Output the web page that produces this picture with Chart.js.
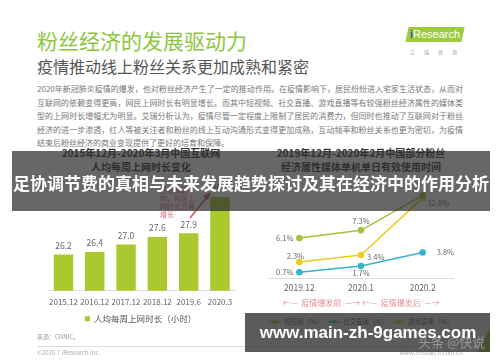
<!DOCTYPE html>
<html>
<head>
<meta charset="utf-8">
<script src="https://cdn.jsdelivr.net/npm/chart.js@4"></script>
<style>
  body { margin: 0; width: 500px; height: 362px; background: #fff; position: relative; overflow: hidden;
         font-family: "Noto Sans CJK SC", "Noto Sans", sans-serif; }
  .abs { position: absolute; white-space: nowrap; }
  .ctr { transform: translateX(-50%); }
  #para div { position: absolute; left: 0; width: 426px; text-align: justify; text-align-last: justify; }
  #para div.last { text-align-last: left; }
  canvas { position: absolute; }
</style>
</head>
<body>

<!-- slide header -->
<div class="abs" style="left:37px;top:27px;font-size:21px;line-height:26px;color:#8cc63e;">粉丝经济的发展驱动力</div>
<div class="abs" style="left:37px;top:56px;font-size:16px;line-height:20px;color:#555;">疫情推动线上粉丝关系更加成熟和紧密</div>

<!-- logo -->
<div class="abs" style="left:407px;top:27px;width:56px;height:15px;background:#9dcb3b;transform:skewX(-12deg);"></div>
<div class="abs" style="left:410px;top:27px;font-size:11px;line-height:15px;color:#fff;font-family:'Liberation Sans',sans-serif;">
  <span style="color:#2a5f8f;font-weight:bold;">i</span>Research</div>
<div class="abs" style="left:410px;top:48px;font-size:5px;line-height:7px;color:#999;letter-spacing:9px;">艾瑞咨询</div>

<!-- paragraph -->
<div id="para" class="abs" style="left:37px;top:83px;font-size:8px;line-height:11px;color:#777;">
  <div style="top:0px">2020年新冠肺炎疫情的爆发，也对粉丝经济产生了一定的推动作用。在疫情影响下，居民纷纷进入宅家生活状态，从而对</div>
  <div style="top:13.5px">互联网的依赖变得更高，网民上网时长有明显增长。而其中短视频、社交直播、游戏直播等有较强粉丝经济属性的媒体类</div>
  <div style="top:27px">型的上网时长增幅尤为明显。艾瑞分析认为，疫情尽管一定程度上限制了居民的消费力，但同时也推动了互联网对于粉丝</div>
  <div style="top:40.5px">经济的进一步渗透，红人等被关注者和粉丝的线上互动沟通形式变得更加成熟，互动频率和粉丝关系也更为密切，为疫情</div>
  <div class="last" style="top:54px">结束后粉丝经济的商业变现提供了更好的培育和保障。</div>
</div>

<!-- chart titles -->
<div class="abs ctr" style="left:141px;top:146px;font-size:10px;line-height:13px;font-weight:bold;color:#333;">2015年12月-2020年3月中国互联网</div>
<div class="abs ctr" style="left:141px;top:160px;font-size:10px;line-height:13px;font-weight:bold;color:#333;">人均每周上网时长变化</div>
<div class="abs ctr" style="left:361px;top:146px;font-size:10px;line-height:13px;font-weight:bold;color:#333;">2019年12月-2020年2月中国部分粉丝</div>
<div class="abs ctr" style="left:361px;top:160px;font-size:10px;line-height:13px;font-weight:bold;color:#333;">经济属性媒体单机单日有效使用时间</div>

<!-- charts -->
<canvas id="barChart" style="left:43px;top:180px;width:195px;height:153px;"></canvas>
<canvas id="lineChart" style="left:263px;top:180px;width:196px;height:155px;"></canvas>

<!-- annotation on bar chart -->
<div class="abs" style="left:160px;top:186px;font-size:7px;line-height:8px;color:#e36b78;">受疫情影<br>响，网民上<br>网时长显著<br>增长</div>
<svg class="abs" style="left:0;top:0;" width="500" height="362">
  <line x1="190" y1="218" x2="207" y2="197" stroke="#d9534f" stroke-width="1.5"/>
  <polygon points="211,192 203,196 208,200" fill="#d9534f"/>
  <polygon points="478,352 490,328 490,352" fill="#8cc63e"/>
</svg>

<!-- footer -->
<div class="abs" style="left:37px;top:333px;font-size:6px;line-height:8px;color:#999;">来源：CNNIC。</div>
<div class="abs" style="left:37px;top:346px;width:426px;height:1px;background:#ddd;"></div>
<div class="abs" style="left:37px;top:349px;font-size:6px;line-height:8px;color:#aaa;">©2020.7 iResearch Inc.</div>
<div class="abs" style="right:37px;top:349px;font-size:6px;line-height:8px;color:#aaa;">www.iresearch.com.cn</div>

<!-- overlays -->
<div class="abs" style="left:12px;top:151px;width:478px;height:60px;background:rgba(45,45,45,0.72);"></div>
<div class="abs ctr" style="left:251px;top:172px;font-size:17px;line-height:22px;font-weight:bold;color:#fff;">足协调节费的真相与未来发展趋势探讨及其在经济中的作用分析</div>
<div class="abs" style="left:245px;top:313px;width:245px;height:39px;background:rgba(45,45,45,0.78);"></div>
<div class="abs" style="left:418px;top:334px;font-size:13px;line-height:16px;color:rgba(200,200,200,0.55);">头条 @快说</div>
<div class="abs ctr" style="left:368px;top:322px;font-size:17px;line-height:22px;font-weight:bold;color:#fff;font-family:'Liberation Sans',sans-serif;">www.main-zh-9games.com</div>

<script>
// ----------------------------
// Data
// ----------------------------
const barYears = ["2015.12", "2016.12", "2017.12", "2018.12", "2019.6", "2020.3"];
const weeklyHours = [26.2, 26.4, 27.0, 27.6, 27.9, 30.8];

const months = ["2019.12", "2020.1", "2020.2"];
const shortVideo = [6.1, 7.3, 12.8];
const socialLive = [0.7, 1.7, 3.8];
const gameLive = [2.3, 3.4, 12.4];

// where each line label sits relative to its point
const shortVideoPos = ["left", "top", "bottomright"];
const socialLivePos = ["left", "bottom", "farright"];
const gameLivePos = ["topleft", "right", "none"];

// ----------------------------
// Value labels plugin
// ----------------------------
const offsets = {
  top: [0, -9, "center"],
  bottom: [0, 7, "center"],
  left: [-6, 0, "right"],
  right: [6, 2, "left"],
  farright: [14, 0, "left"],
  topleft: [-4, -6, "center"],
  bottomright: [5, 8, "left"],
};

const valueLabels = {
  id: "valueLabels",
  afterDatasetsDraw(chart, args, opts) {
    const ctx = chart.ctx;
    ctx.save();
    ctx.font = opts.font;
    ctx.fillStyle = opts.color;
    ctx.textBaseline = "middle";
    chart.data.datasets.forEach((ds, di) => {
      const meta = chart.getDatasetMeta(di);
      meta.data.forEach((el, i) => {
        const p = (ds.labelPos && ds.labelPos[i]) || "top";
        if (p === "none") return;
        const [dx, dy, align] = offsets[p];
        ctx.textAlign = align;
        ctx.fillText(opts.format(ds.data[i]), el.x + dx, el.y + dy);
      });
    });
    ctx.restore();
  },
};

function legendMark(color) {
  const c = document.createElement("canvas");
  c.width = 12; c.height = 6;
  const g = c.getContext("2d");
  g.strokeStyle = color; g.lineWidth = 1.5;
  g.beginPath(); g.moveTo(0, 3); g.lineTo(12, 3); g.stroke();
  g.fillStyle = color;
  g.beginPath(); g.arc(6, 3, 2, 0, Math.PI * 2); g.fill();
  return c;
}

const font = "'Noto Sans CJK SC', 'Noto Sans', sans-serif";
Chart.defaults.font.family = font;
Chart.defaults.color = "#666";

// ----------------------------
// Bar chart
// ----------------------------
new Chart(document.getElementById("barChart"), {
  type: "bar",
  data: {
    labels: barYears,
    datasets: [{
      label: "人均每周上网时长（小时）",
      data: weeklyHours,
      backgroundColor: "#a9c92f",
      barPercentage: 0.62,
      categoryPercentage: 1,
    }],
  },
  options: {
    responsive: false,
    animation: false,
    layout: { padding: { top: 7, left: 0, right: 0, bottom: 0 } },
    scales: {
      x: {
        grid: { display: false, drawTicks: false },
        border: { display: true, color: "#ddd" },
        ticks: { font: { size: 8 }, color: "#666", padding: 6.2, minRotation: 0, maxRotation: 0, autoSkip: false },
      },
      y: { display: false, min: 23.3, max: 31.6 },
    },
    plugins: {
      legend: {
        position: "bottom",
        labels: { boxWidth: 5, boxHeight: 5, font: { size: 8.5 }, color: "#555", padding: 1.7 },
      },
      tooltip: { enabled: false },
      valueLabels: { font: "8.5px " + font, color: "#666", format: v => v.toFixed(1) },
    },
  },
  plugins: [valueLabels],
});

// ----------------------------
// Line chart
// ----------------------------
const lineSeries = [
  { label: "短视频（%）", data: shortVideo, color: "#a3c43a", pos: shortVideoPos },
  { label: "社交直播（%）", data: socialLive, color: "#35b3cc", pos: socialLivePos },
  { label: "游戏直播（%）", data: gameLive, color: "#eccb23", pos: gameLivePos },
];

new Chart(document.getElementById("lineChart"), {
  type: "line",
  data: {
    labels: months,
    datasets: lineSeries.map(s => ({
      label: s.label,
      data: s.data,
      labelPos: s.pos,
      borderColor: s.color,
      backgroundColor: s.color,
      borderWidth: 1.5,
      pointRadius: 2.5,
      pointStyle: "circle",
      legendMark: legendMark(s.color),
    })),
  },
  options: {
    responsive: false,
    animation: false,
    layout: { padding: { top: 5, left: 0, right: 0, bottom: 0 } },
    scales: {
      x: {
        offset: true,
        grid: { display: false, drawTicks: false },
        border: { display: true, color: "#ddd" },
        ticks: { font: { size: 8.5 }, color: "#666", padding: 4.4, minRotation: 0, maxRotation: 0 },
        title: {
          display: true,
          text: "←—  疫情爆发前  —→ ←—  疫情爆发后  —→",
          font: { size: 8 },
          color: "#e8909a",
          padding: { top: 0.6, bottom: 6 },
        },
      },
      y: { display: false, min: -0.25, max: 14.35 },
    },
    plugins: {
      legend: {
        position: "bottom",
        labels: {
          usePointStyle: true,
          pointStyleWidth: 12,
          font: { size: 6.5 },
          color: "#666",
          padding: 5,
          generateLabels(chart) {
            return Chart.defaults.plugins.legend.labels.generateLabels(chart).map(item => {
              item.pointStyle = chart.data.datasets[item.datasetIndex].legendMark;
              return item;
            });
          },
        },
      },
      tooltip: { enabled: false },
      valueLabels: { font: "7.5px " + font, color: "#666", format: v => v.toFixed(1) + "%" },
    },
  },
  plugins: [valueLabels],
});
</script>
</body>
</html>
